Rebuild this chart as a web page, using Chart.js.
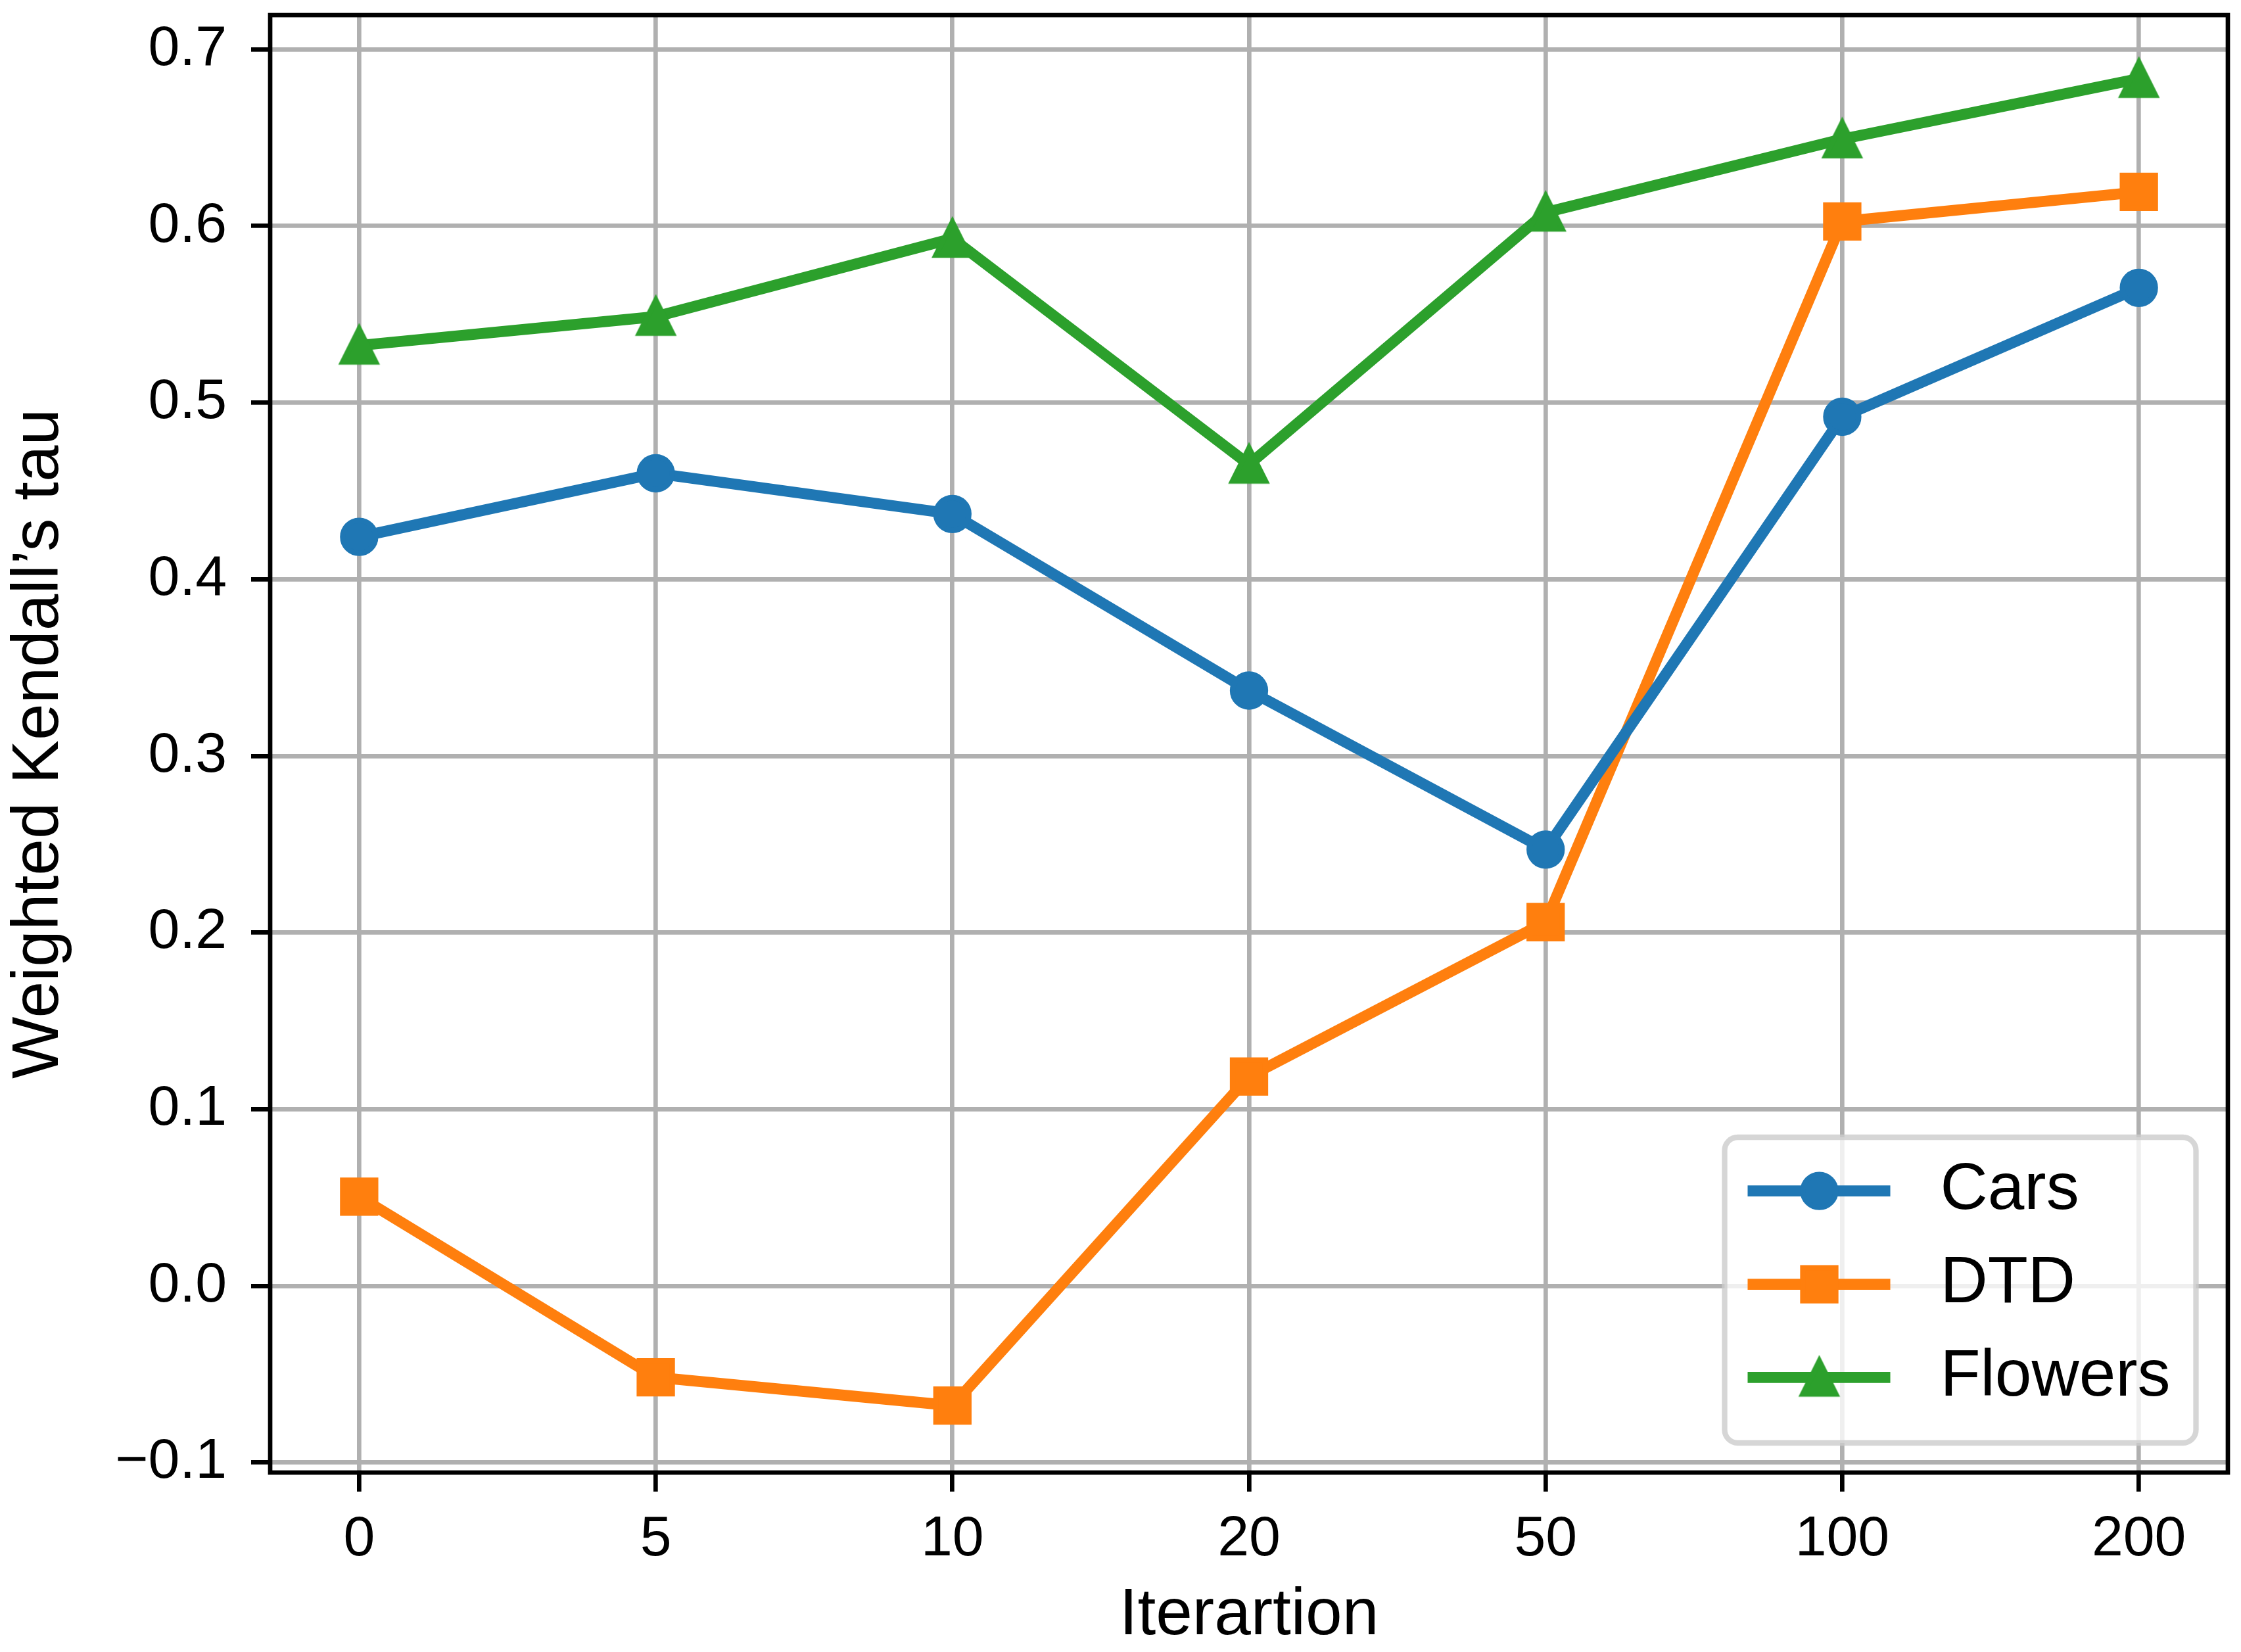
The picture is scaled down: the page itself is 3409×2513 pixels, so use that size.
<!DOCTYPE html>
<html>
<head>
<meta charset="utf-8">
<script src="https://cdn.jsdelivr.net/npm/chart.js@4.4.1/dist/chart.umd.min.js"></script>
<style>
  html, body { margin: 0; padding: 0; background: #fff; }
  canvas { display: block; }
</style>
</head>
<body>
<canvas id="kendallChart" width="3409" height="2513"></canvas>
<script>
// values
const iterations = ["0", "5", "10", "20", "50", "100", "200"];
const cars = [0.424, 0.460, 0.437, 0.337, 0.247, 0.492, 0.565];
const dtd = [0.0505, -0.0518, -0.0678, 0.1185, 0.2059, 0.6026, 0.6193];
const flowers = [0.5324, 0.5487, 0.5929, 0.4650, 0.6077, 0.6492, 0.6834];
const yTicks = [-0.1, 0.0, 0.1, 0.2, 0.3, 0.4, 0.5, 0.6, 0.7];
const yTickLabels = ["\u22120.1", "0.0", "0.1", "0.2", "0.3", "0.4", "0.5", "0.6", "0.7"];

const LW = 16.7;     // line width
const MEW = 8.3;     // marker edge width
const AXW = 6.7;     // spines, ticks, grid

// where the plot frame should sit
const AREA = { left: 411, top: 23, right: 3389, bottom: 2240 };

// matplotlib-like "^" marker as an image
function triangleMarker(color) {
  const c = document.createElement("canvas");
  c.width = 80; c.height = 80;
  const g = c.getContext("2d");
  g.beginPath();
  g.moveTo(40, 15); g.lineTo(15, 65); g.lineTo(65, 65); g.closePath();
  g.fillStyle = color; g.strokeStyle = color;
  g.lineWidth = MEW; g.lineJoin = "miter";
  g.fill(); g.stroke();
  return c;
}

function series(label, values, color, style, radius) {
  return {
    label: label,
    data: values.map((v, i) => ({ x: i, y: v })),
    borderColor: color,
    backgroundColor: color,
    borderWidth: LW,
    pointStyle: style,
    pointRadius: radius,
    pointBorderWidth: MEW,
    pointBackgroundColor: color,
    pointBorderColor: color,
    tension: 0
  };
}

const datasets = [
  series("Cars", cars, "#1f77b4", "circle", 25),
  series("DTD", dtd, "#ff7f0e", "rect", 25 / Math.SQRT1_2),
  series("Flowers", flowers, "#2ca02c", triangleMarker("#2ca02c"), 25)
];

// spines on top of the lines
const framePlugin = {
  id: "frame",
  afterDatasetsDraw(chart) {
    const { ctx, chartArea: a } = chart;
    ctx.save();
    ctx.strokeStyle = "#000";
    ctx.lineWidth = AXW;
    ctx.lineJoin = "miter";
    ctx.strokeRect(a.left, a.top, a.right - a.left, a.bottom - a.top);
    ctx.restore();
  }
};

// legend in the lower right corner, matplotlib style
const legendPlugin = {
  id: "boxLegend",
  afterDraw(chart) {
    const { ctx, chartArea: a } = chart;
    const w = 717, h = 465;
    const x0 = a.right - 48.5 - w, y0 = a.bottom - 45 - h;
    ctx.save();
    ctx.beginPath();
    ctx.roundRect(x0, y0, w, h, 20);
    ctx.fillStyle = "rgba(255,255,255,0.8)";
    ctx.fill();
    ctx.lineWidth = 8.3;
    ctx.strokeStyle = "rgba(204,204,204,0.8)";
    ctx.stroke();

    const rows = [81.7, 223.7, 365.4];
    chart.data.datasets.forEach((ds, i) => {
      const y = y0 + rows[i];
      ctx.beginPath();
      ctx.moveTo(x0 + 35, y);
      ctx.lineTo(x0 + 252, y);
      ctx.strokeStyle = ds.borderColor;
      ctx.lineWidth = LW;
      ctx.lineCap = "butt";
      ctx.stroke();
      ctx.fillStyle = ds.pointBackgroundColor;
      ctx.strokeStyle = ds.pointBorderColor;
      ctx.lineWidth = ds.pointBorderWidth;
      Chart.helpers.drawPoint(ctx, {
        pointStyle: ds.pointStyle, radius: ds.pointRadius,
        borderWidth: ds.pointBorderWidth, rotation: 0
      }, x0 + 144, y);
      ctx.fillStyle = "#000";
      ctx.font = "100px 'Liberation Sans', Arial, sans-serif";
      ctx.textAlign = "left";
      ctx.textBaseline = "middle";
      ctx.fillText(ds.label, x0 + 328, y);
    });
    ctx.restore();
  }
};

Chart.defaults.font.family = "'Liberation Sans', Arial, sans-serif";
Chart.defaults.color = "#000";

new Chart(document.getElementById("kendallChart"), {
  type: "line",
  data: { datasets: datasets },
  options: {
    responsive: false,
    devicePixelRatio: 1,
    animation: false,
    events: [],
    layout: {
      autoPadding: false,
      padding: { top: AREA.top, right: 3409 - AREA.right, left: 0, bottom: 0 }
    },
    plugins: { legend: { display: false }, tooltip: { enabled: false } },
    scales: {
      x: {
        type: "linear",
        min: -0.3,
        max: 6.3,
        afterBuildTicks: s => { s.ticks = iterations.map((_, i) => ({ value: i })); },
        afterFit: s => { s.height = 2513 - AREA.bottom; s.paddingLeft = 0; s.paddingRight = 0; },
        ticks: {
          autoSkip: false, maxRotation: 0, padding: 22,
          font: { size: 86 },
          callback: (v, i) => iterations[i]
        },
        grid: { color: "#b0b0b0", lineWidth: AXW, tickLength: 29, tickColor: "#000", tickWidth: AXW },
        border: { display: false },
        title: { display: true, text: "Iterartion", font: { size: 100, lineHeight: 1.1 }, padding: { top: 0, bottom: 0 } }
      },
      y: {
        type: "linear",
        min: -0.1057,
        max: 0.7194,
        afterBuildTicks: s => { s.ticks = yTicks.map(v => ({ value: v })); },
        afterFit: s => { s.width = AREA.left; s.paddingTop = 0; s.paddingBottom = 0; },
        ticks: {
          padding: 37,
          font: { size: 86 },
          callback: (v, i) => yTickLabels[i]
        },
        grid: { color: "#b0b0b0", lineWidth: AXW, tickLength: 29, tickColor: "#000", tickWidth: AXW },
        border: { display: false },
        title: { display: true, text: "Weighted Kendall\u2019s tau", font: { size: 100 }, padding: { top: 0, bottom: 0 } }
      }
    }
  },
  plugins: [framePlugin, legendPlugin]
});
</script>
</body>
</html>
